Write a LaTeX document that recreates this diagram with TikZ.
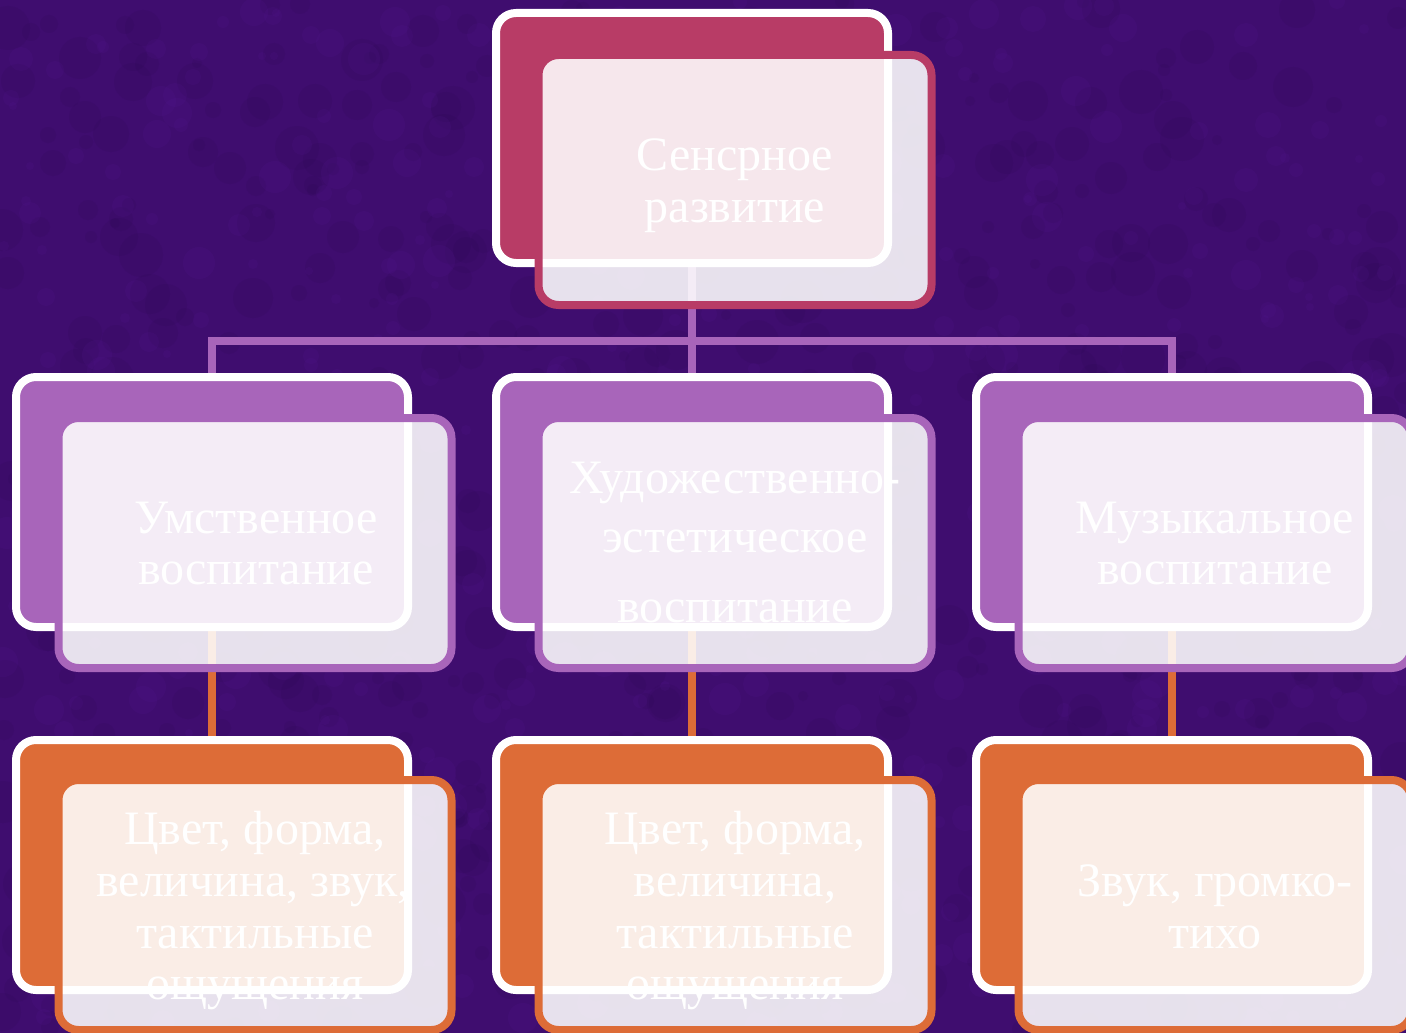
\documentclass[tikz,border=0pt]{standalone}
\usepackage{fontspec}
\setmainfont{Liberation Serif}
\definecolor{bgpurple}{HTML}{3F0D6F}
\definecolor{bgdark}{HTML}{2A0650}
\definecolor{bglight}{HTML}{5A1C9A}
\definecolor{crim}{HTML}{B83C66}
\definecolor{purp}{HTML}{A865BA}
\definecolor{orng}{HTML}{DD6C37}
\tikzset{
  backbox/.style={draw=white, line width=8pt, rounded corners=20pt, minimum width=392pt, minimum height=250pt, inner sep=0pt, outer sep=0pt},
  frontbox/.style={line width=8pt, rounded corners=20pt, fill=white, fill opacity=0.88, draw opacity=1, minimum width=393pt, minimum height=250pt, inner sep=0pt, outer sep=0pt},
  lbl/.style={text=white, anchor=base, font=\fontsize{48}{52}\selectfont, inner sep=0pt},
  connP/.style={draw=purp, line width=8pt},
  connO/.style={draw=orng, line width=8pt},
}
\begin{document}
\begin{tikzpicture}[x=1pt,y=-1pt]
\useasboundingbox (0,0) rectangle (1406,1033);
\fill[bgpurple] (0,0) rectangle (1406,1033);
\begin{scope}
\clip (0,0) rectangle (1406,1033);
\pgfmathsetseed{11}
\foreach \i in {1,...,600}{
  \pgfmathsetmacro\xx{random(0,1406)}
  \pgfmathsetmacro\yy{random(0,1033)}
  \pgfmathsetmacro\rr{random(5,22)}
  \fill[bgdark, opacity=0.14] (\xx,\yy) circle (\rr);
}
\foreach \i in {1,...,450}{
  \pgfmathsetmacro\xx{random(0,1406)}
  \pgfmathsetmacro\yy{random(0,1033)}
  \pgfmathsetmacro\rr{random(4,16)}
  \fill[bglight, opacity=0.12] (\xx,\yy) circle (\rr);
}
\end{scope}

% connector anchor points (box centres)
\path (692,138) coordinate (pTop)
      (212,502) coordinate (pM1) (692,502) coordinate (pM2) (1172,502) coordinate (pM3)
      (212,865) coordinate (pB1) (692,865) coordinate (pB2) (1172,865) coordinate (pB3);
\coordinate (bus) at (692,341);
\draw[connP] (pTop) -- (pM2);
\draw[connP] (pM1) |- (bus) -| (pM3);
\draw[connO] (pM1) -- (pB1);
\draw[connO] (pM2) -- (pB2);
\draw[connO] (pM3) -- (pB3);

% top
\node[backbox, fill=crim] (topB) at (pTop) {};
\node[frontbox, draw=crim] (topF) at (735,180) {};
\node[lbl] (t1) at (735,170) {Сенсрное};
\node[lbl] (t2) at (735,222) {развитие};

% middle row
\node[backbox, fill=purp] (m1B) at (pM1) {};
\node[frontbox, draw=purp] (m1F) at (255,543) {};
\node[lbl] (m1a) at (256,533) {Умственное};
\node[lbl] (m1b) at (256,584) {воспитание};

\node[backbox, fill=purp] (m2B) at (pM2) {};
\node[frontbox, draw=purp] (m2F) at (735,543) {};
\node[lbl] (m2a) at (735,493) {Художественно-};
\node[lbl] (m2b) at (735,552) {эстетическое};
\node[lbl] (m2c) at (735,622) {воспитание};

\node[backbox, fill=purp] (m3B) at (pM3) {};
\node[frontbox, draw=purp] (m3F) at (1215,543) {};
\node[lbl] (m3a) at (1215,533) {Музыкальное};
\node[lbl] (m3b) at (1215,584) {воспитание};

% bottom row
\node[backbox, fill=orng] (b1B) at (pB1) {};
\node[frontbox, draw=orng] (b1F) at (255,905) {};
\node[lbl] (b1a) at (255,844) {Цвет, форма,};
\node[lbl] (b1b) at (253,896) {величина, звук,};
\node[lbl] (b1c) at (255,948) {тактильные};
\node[lbl] (b1d) at (255,999) {ощущения};

\node[backbox, fill=orng] (b2B) at (pB2) {};
\node[frontbox, draw=orng] (b2F) at (735,905) {};
\node[lbl] (b2a) at (735,844) {Цвет, форма,};
\node[lbl] (b2b) at (735,896) {величина,};
\node[lbl] (b2c) at (735,948) {тактильные};
\node[lbl] (b2d) at (735,999) {ощущения};

\node[backbox, fill=orng] (b3B) at (pB3) {};
\node[frontbox, draw=orng] (b3F) at (1215,905) {};
\node[lbl] (b3a) at (1215,896) {Звук, громко-};
\node[lbl] (b3b) at (1215,948) {тихо};
\end{tikzpicture}
\end{document}
